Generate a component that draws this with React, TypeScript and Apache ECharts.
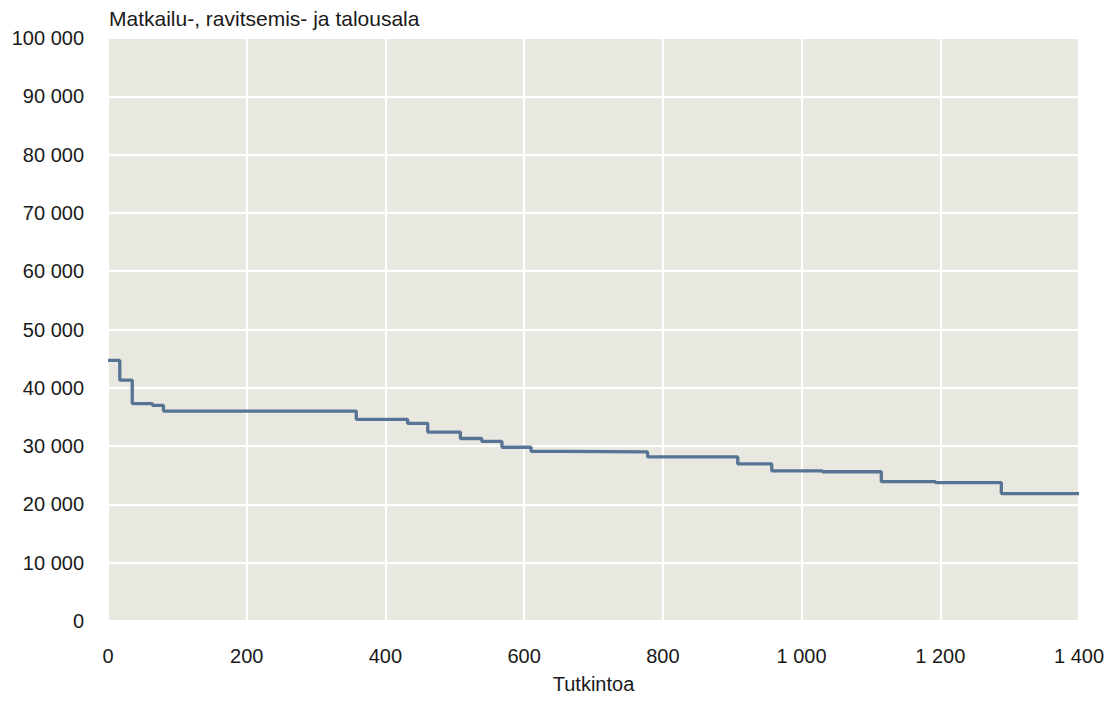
import React, { useEffect, useRef } from "react";
import * as echarts from "echarts";

const title = "Matkailu-, ravitsemis- ja talousala";
const xAxisName = "Tutkintoa";
const stepX = [0, 17, 35, 64, 80, 358, 432, 461, 508, 539, 568, 610, 659, 778, 908, 957, 1030, 1115, 1193, 1288, 1400];
const stepY = [44700, 41300, 37300, 37000, 36000, 34600, 33900, 32400, 31300, 30800, 29800, 29100, 29000, 28150, 26950, 25750, 25600, 23900, 23750, 21850, 21850];

const fmt = (v: number) => String(v).replace(/\B(?=(\d{3})+(?!\d))/g, " ");

export default function App() {
  const ref = useRef<HTMLDivElement>(null);
  useEffect(() => {
    if (!ref.current) return;
    const chart = echarts.init(ref.current, null, { renderer: "svg" });
    const font = "'Liberation Sans', Arial, sans-serif";
    chart.setOption({
      animation: false,
      textStyle: { fontFamily: font },
      title: {
        text: title,
        left: 104,
        top: 3,
        textStyle: { fontSize: 21, fontWeight: "normal", color: "#1a1a1a", fontFamily: font },
      },
      grid: {
        left: 108,
        right: 35,
        top: 38,
        bottom: 81,
        show: true,
        backgroundColor: "#e8e7e0",
        borderWidth: 0,
      },
      xAxis: {
        type: "value",
        min: 0,
        max: 1400,
        interval: 200,
        name: xAxisName,
        nameLocation: "middle",
        nameGap: 53,
        nameTextStyle: { fontSize: 20, color: "#1a1a1a", fontFamily: font },
        axisLine: { show: false },
        axisTick: { show: false },
        axisLabel: { fontSize: 20, color: "#1a1a1a", margin: 25, formatter: (v: number) => fmt(v), fontFamily: font },
        splitLine: { show: true, lineStyle: { color: "#ffffff", width: 2 } },
      },
      yAxis: {
        type: "value",
        min: 0,
        max: 100000,
        interval: 10000,
        axisLine: { show: false },
        axisTick: { show: false },
        axisLabel: { fontSize: 20, color: "#1a1a1a", margin: 24, formatter: (v: number) => fmt(v), fontFamily: font },
        splitLine: { show: true, lineStyle: { color: "#ffffff", width: 2 } },
      },
      series: [
        {
          type: "line",
          step: "end",
          showSymbol: false,
          symbol: "none",
          data: stepX.map((x, i) => [x, stepY[i]]),
          lineStyle: { color: "#587494", width: 3.3 },
        },
      ],
    });
    return () => chart.dispose();
  }, []);
  return <div ref={ref} style={{ width: 1114, height: 702, position: "absolute", left: 0, top: 0 }} />;
}
